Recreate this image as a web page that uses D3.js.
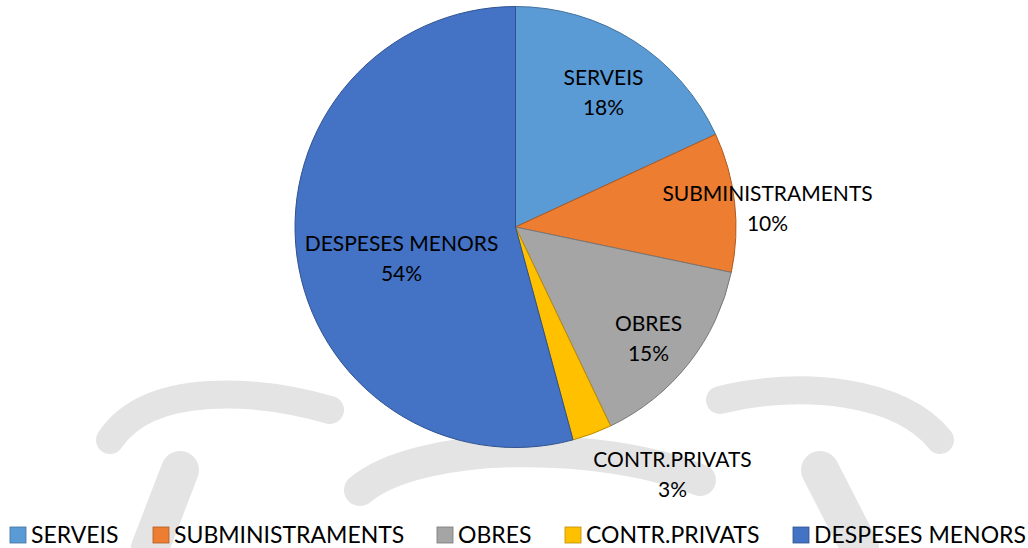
<!DOCTYPE html>
<html>
<head>
<meta charset="utf-8">
<script src="https://cdn.jsdelivr.net/npm/d3@7"></script>
<style>
  body { margin: 0; background: #fff; }
  text { font-family: Lato, "Open Sans", sans-serif; fill: #000; }
</style>
</head>
<body>
<div id="chart"></div>
<script>
// data
var categories = ["SERVEIS", "SUBMINISTRAMENTS", "OBRES", "CONTR.PRIVATS", "DESPESES MENORS"]
var values = [18.1, 10.2, 14.6, 2.9, 54.2]
var pctLabels = ["18%", "10%", "15%", "3%", "54%"]
var colors = ["#5B9BD5", "#ED7D31", "#A5A5A5", "#FFC000", "#4472C4"]
var strokes = ["#41719C", "#AE5A21", "#787878", "#BC8C00", "#2F528F"]

var w = 1028, h = 548

var svg = d3.select("#chart")
	.append("svg")
	.attr("width", w)
	.attr("height", h)

// faint watermark behind the chart
var wm = svg.append("g")
	.attr("fill", "none")
	.attr("stroke", "#e4e4e4")
	.attr("stroke-linecap", "round")
wm.append("path").attr("stroke-width", 28)
	.attr("d", "M110,440 C150,380 260,390 330,410")
wm.append("path").attr("stroke-width", 28)
	.attr("d", "M720,400 C800,380 900,390 940,440")
wm.append("path").attr("stroke-width", 32)
	.attr("d", "M360,490 C420,440 600,440 700,480")
wm.append("path").attr("stroke-width", 38)
	.attr("d", "M180,470 L150,548")
wm.append("path").attr("stroke-width", 38)
	.attr("d", "M820,470 L860,548")

var cx = 515.5, cy = 227, r = 220.5

var pie = d3.pie().sort(null).value(function(d) { return d })
var arc = d3.arc().innerRadius(0).outerRadius(r)
var arcs = pie(values)

var g = svg.append("g").attr("transform", "translate(" + cx + "," + cy + ")")

g.selectAll("path.slice")
	.data(arcs)
	.enter()
	.append("path")
	.attr("class", "slice")
	.attr("d", arc)
	.attr("fill", function(d, i) { return colors[i] })
	.attr("stroke", function(d, i) { return strokes[i] })
	.attr("stroke-width", 1)

var labelPos = [[88, -135], [252, -19], [133, 111], [157, 247], [-114, 31]]

var lab = g.selectAll("g.lab")
	.data(arcs)
	.enter()
	.append("g")
	.attr("transform", function(d, i) { return "translate(" + labelPos[i][0] + "," + labelPos[i][1] + ")" })

lab.append("text")
	.attr("text-anchor", "middle")
	.attr("y", -7)
	.style("font-size", "21px")
	.text(function(d, i) { return categories[i] })
lab.append("text")
	.attr("text-anchor", "middle")
	.attr("y", 23)
	.style("font-size", "21px")
	.text(function(d, i) { return pctLabels[i] })

// legend
var legX = [10, 153, 437, 565, 793]
var leg = svg.selectAll("g.leg")
	.data(categories)
	.enter()
	.append("g")
	.attr("transform", function(d, i) { return "translate(" + legX[i] + ",527)" })

leg.append("rect")
	.attr("width", 16)
	.attr("height", 16)
	.attr("fill", function(d, i) { return colors[i] })
	.attr("stroke", function(d, i) { return strokes[i] })
	.attr("stroke-width", 0.8)

leg.append("text")
	.attr("x", 21)
	.attr("y", 16)
	.style("font-size", "23px")
	.text(function(d) { return d })
</script>
</body>
</html>
